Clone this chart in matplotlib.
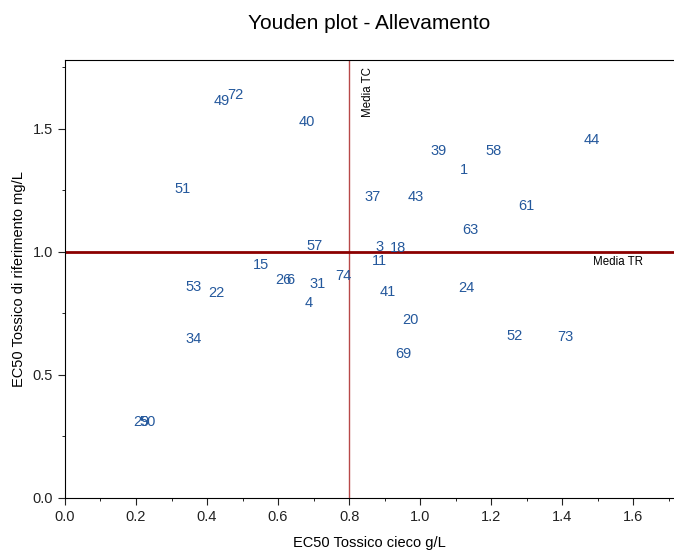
import matplotlib
matplotlib.use("Agg")
import matplotlib.pyplot as plt
from matplotlib.ticker import MultipleLocator

plt.rcParams['font.family'] = ['Liberation Sans', 'DejaVu Sans']

# laboratori: etichetta, EC50 tossico cieco (x), EC50 tossico di riferimento (y)
labs = ['49', '72', '40', '51', '57', '15', '26', '6', '31', '74', '4', '53', '22', '34', '29', '50',
        '39', '58', '1', '44', '37', '43', '61', '63', '3', '18', '11',
        '41', '24', '20', '69', '52', '73']
tc = [0.442, 0.479, 0.682, 0.332, 0.704, 0.552, 0.614, 0.634, 0.710, 0.783, 0.685, 0.363, 0.425, 0.363, 0.214, 0.234,
      1.051, 1.208, 1.124, 1.482, 0.865, 0.989, 1.299, 1.141, 0.885, 0.938, 0.885,
      0.910, 1.130, 0.972, 0.952, 1.265, 1.408]
tr = [1.614, 1.638, 1.528, 1.256, 1.024, 0.947, 0.886, 0.886, 0.870, 0.902, 0.793, 0.858, 0.833, 0.646, 0.309, 0.309,
      1.411, 1.411, 1.333, 1.455, 1.224, 1.224, 1.187, 1.089, 1.020, 1.016, 0.963,
      0.837, 0.854, 0.724, 0.585, 0.659, 0.654]

media_tc = 0.8
media_tr = 1.0

fig = plt.figure(figsize=(6.74, 5.54), dpi=100)
ax = fig.add_axes([0.0964, 0.1011, 0.9036, 0.7906])

for lab, x, y in zip(labs, tc, tr):
    ax.text(x, y, lab, color='#24589c', fontsize=10.5, ha='center', va='center')

ax.axvline(media_tc, color='#b84848', lw=1)
ax.axhline(media_tr, color='#8b0000', lw=2)
ax.text(0.854, 1.752, 'Media TC', rotation=90, fontsize=8.3, ha='center', va='top')
ax.text(1.558, 0.959, 'Media TR', fontsize=8.3, ha='center', va='center')

ax.set_xlim(0, 1.715)
ax.set_ylim(0, 1.78)
ax.xaxis.set_major_locator(MultipleLocator(0.2))
ax.xaxis.set_minor_locator(MultipleLocator(0.1))
ax.yaxis.set_major_locator(MultipleLocator(0.5))
ax.yaxis.set_minor_locator(MultipleLocator(0.25))
ax.tick_params(which='major', length=5, labelsize=10.5, colors='#222222')
ax.tick_params(which='minor', length=2.5)
ax.spines['right'].set_visible(False)

ax.set_title('Youden plot - Allevamento', fontsize=15, pad=22)
ax.set_xlabel('EC50 Tossico cieco g/L', fontsize=10.5, labelpad=9)
ax.set_ylabel('EC50 Tossico di riferimento mg/L', fontsize=10.5, labelpad=5)

fig.savefig('out.png', dpi=100)
